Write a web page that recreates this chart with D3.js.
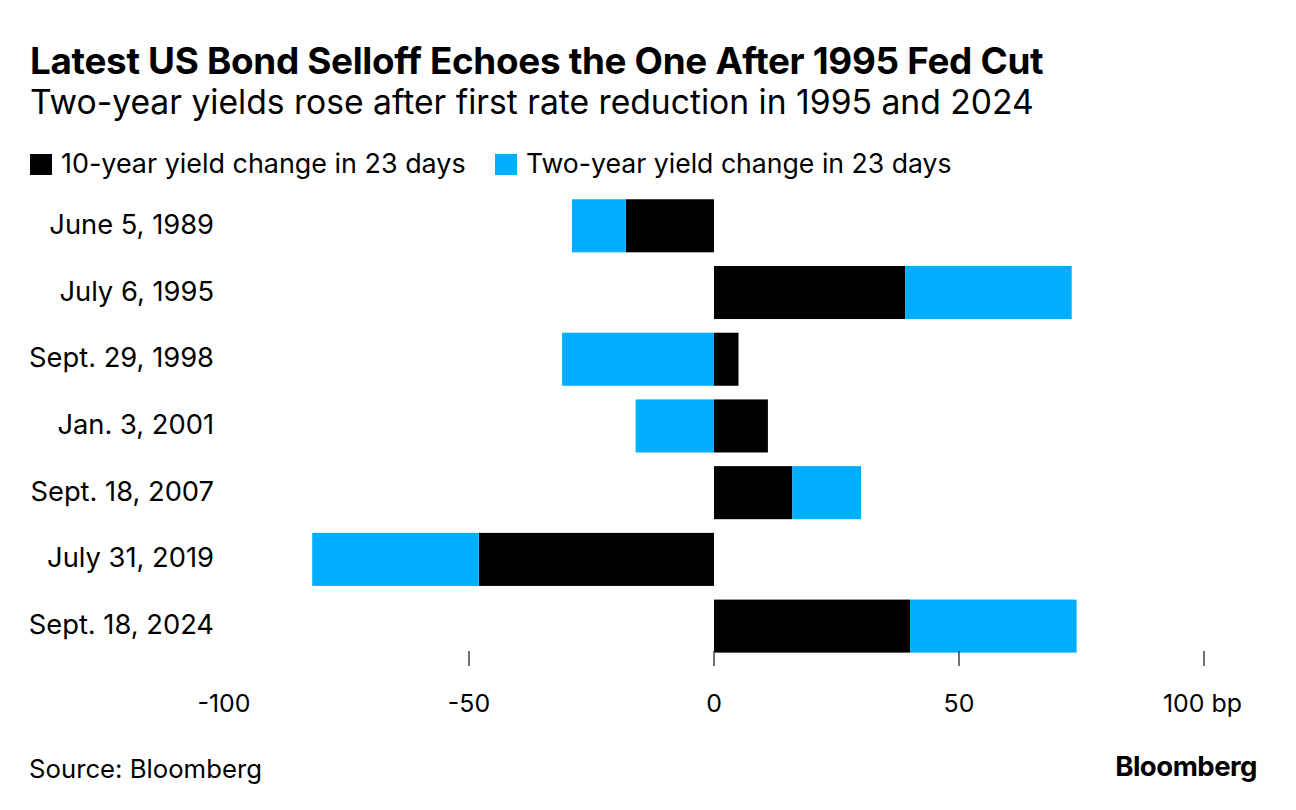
<!DOCTYPE html>
<html>
<head>
<meta charset="utf-8">
<script src="https://cdn.jsdelivr.net/npm/d3@7"></script>
<style>
  body { margin: 0; background: #fff; }
  svg { font-family: Inter, "Liberation Sans", Arial, sans-serif; }
</style>
</head>
<body>
<svg id="chart" width="1296" height="810"></svg>
<script>
"use strict";

var dates = ['June 5, 1989', 'July 6, 1995', 'Sept. 29, 1998', 'Jan. 3, 2001',
             'Sept. 18, 2007', 'July 31, 2019', 'Sept. 18, 2024'];
var tenYear = [-18, 39, 5, 11, 16, -48, 40];
var twoYear = [-11, 34, -31, -16, 14, -34, 34];
var seriesNames = ['10-year yield change in 23 days', 'Two-year yield change in 23 days'];
var xTicks = [-100, -50, 0, 50, 100];

var colors = ['#000000', '#00aeff'];

var svg = d3.select('#chart');

// scale font size so the text spans roughly the width seen in the original
function fit(sel, width) {
  var size = parseFloat(sel.attr('font-size'));
  var w = sel.node().getComputedTextLength();
  sel.attr('font-size', size * width / w);
  return sel;
}

// header
fit(svg.append('text').attr('x', 30).attr('y', 74)
  .attr('font-size', 28).attr('font-weight', 'bold').attr('letter-spacing', -0.3)
  .text('Latest US Bond Selloff Echoes the One After 1995 Fed Cut'), 1008);
fit(svg.append('text').attr('x', 30).attr('y', 114)
  .attr('font-size', 26)
  .text('Two-year yields rose after first rate reduction in 1995 and 2024'), 1004);

// legend
var legendX = [30, 495];
var legendW = [405, 426];
seriesNames.forEach(function(name, i) {
  var g = svg.append('g').attr('transform', 'translate(' + legendX[i] + ',150)');
  g.append('rect').attr('x', 0).attr('y', 4).attr('width', 22).attr('height', 21).attr('fill', colors[i]);
  fit(g.append('text').attr('x', 31).attr('y', 23).attr('font-size', 22).text(name), legendW[i]);
});

// rows for stacking
var rows = dates.map(function(d, i) {
  return { date: d, ten: tenYear[i], two: twoYear[i] };
});
var stack = d3.stack().keys(['ten', 'two']).offset(d3.stackOffsetDiverging);
var layers = stack(rows);

var x = d3.scaleLinear().domain([-100, 100]).range([224, 1204]);
var y = d3.scaleBand().domain(dates).range([192.6, 659.3]).paddingInner(0.205).paddingOuter(0.1);

svg.append('g').selectAll('g')
  .data(layers)
  .join('g')
  .attr('fill', function(d, i) { return colors[i]; })
  .selectAll('rect')
  .data(function(d) { return d; })
  .join('rect')
  .attr('x', function(d) { return x(Math.min(d[0], d[1])); })
  .attr('width', function(d) { return Math.abs(x(d[1]) - x(d[0])); })
  .attr('y', function(d) { return y(d.data.date); })
  .attr('height', y.bandwidth());

// category labels
var labels = svg.append('g').selectAll('text')
  .data(dates)
  .join('text')
  .attr('x', 214)
  .attr('y', function(d) { return y(d) + y.bandwidth() / 2 + 8; })
  .attr('text-anchor', 'end')
  .attr('font-size', 22)
  .text(function(d) { return d; });
var ref = labels.filter(function(d) { return d === 'Sept. 29, 1998'; });
fit(ref, 185);
labels.attr('font-size', ref.attr('font-size'));

// x axis ticks
var ax = svg.append('g');
ax.selectAll('line')
  .data(xTicks.filter(function(t) { return t !== -100; }))
  .join('line')
  .attr('x1', function(d) { return x(d); })
  .attr('x2', function(d) { return x(d); })
  .attr('y1', 651).attr('y2', 666)
  .attr('stroke', '#444').attr('stroke-width', 1.5);
var tickLabels = ax.selectAll('text')
  .data(xTicks.filter(function(t) { return t !== 100; }))
  .join('text')
  .attr('x', function(d) { return x(d); })
  .attr('y', 712)
  .attr('text-anchor', 'middle')
  .attr('font-size', 22)
  .text(function(d) { return d; });
var neg = tickLabels.filter(function(d) { return d === -100; });
fit(neg, 53);
tickLabels.attr('font-size', neg.attr('font-size'));
// last tick label carries the unit
ax.append('text')
  .attr('x', x(100) - 41).attr('y', 712)
  .attr('font-size', neg.attr('font-size'))
  .text('100 bp');

// footer
fit(svg.append('text').attr('x', 29).attr('y', 778).attr('font-size', 22).text('Source: Bloomberg'), 233);
fit(svg.append('text').attr('x', 1257).attr('y', 776).attr('text-anchor', 'end')
  .attr('font-size', 23).attr('font-weight', 'bold').attr('letter-spacing', -0.5)
  .text('Bloomberg'), 141);
</script>
</body>
</html>
